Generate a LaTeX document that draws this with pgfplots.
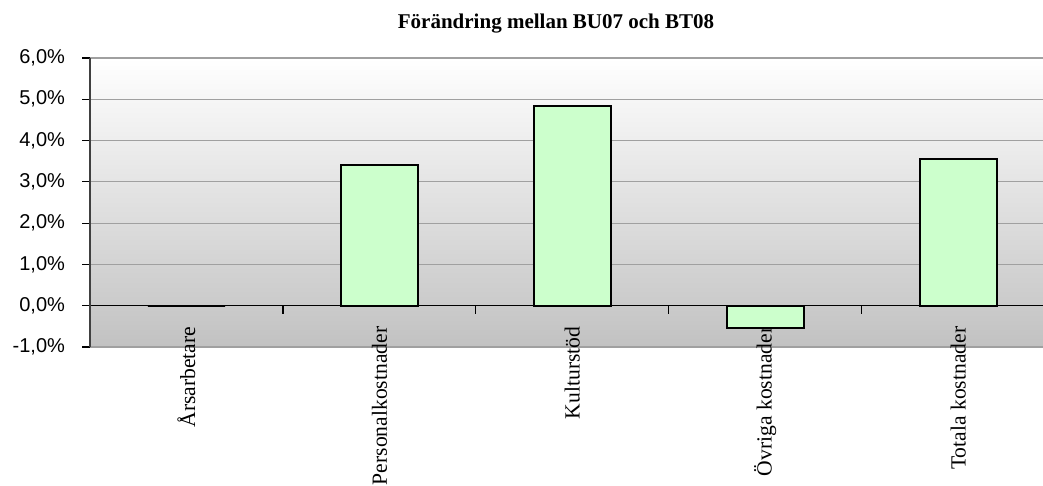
\documentclass[border=0pt]{standalone}
\usepackage{fontspec}
\setmainfont{Liberation Serif}
\newfontfamily\arialfont{Liberation Sans}
\usepackage{pgfplots}
\usepackage{pgfplotstable}
\pgfplotsset{compat=1.18}
\newlength\px \setlength\px{0.5pt}
\definecolor{barfill}{HTML}{CCFFCC}
\definecolor{gridgray}{HTML}{A0A0A0}
\pgfplotstableread{
x y
0 0
1 3.41
2 4.84
3 -0.53
4 3.56
}\datatable
\begin{document}
\begin{tikzpicture}[x=1\px,y=1\px]
\useasboundingbox (0,0) rectangle (1043,486);
\node[font=\fontsize{10.5pt}{12pt}\selectfont\bfseries] at (556,462) {Förändring mellan BU07 och BT08};
\begin{axis}[
 at={(90\px,139\px)}, anchor=south west,
 scale only axis, width=953\px, height=289\px,
 xmin=-0.5, xmax=4.44, ymin=-1, ymax=6,
 axis background/.style={shade, top color=white, bottom color=black!24},
 axis x line=middle, axis y line=left,
 axis line style={-, line width=1.5\px},
 x axis line style={black},
 y axis line style={black!75},
 tick align=outside,
 major tick length=8\px,
 tick style={black, line width=1.2\px},
 ytick={-1,0,...,6},
 yticklabels={{-1,0\%},{0,0\%},{1,0\%},{2,0\%},{3,0\%},{4,0\%},{5,0\%},{6,0\%}},
 yticklabel style={font=\arialfont\fontsize{10pt}{11pt}\selectfont, anchor=east, xshift=-10\px},
 xtick={0.5,1.5,2.5,3.5},
 xticklabels={},
 extra x ticks={0,1,2,3,4},
 extra x tick labels={Årsarbetare,Personalkostnader,Kulturstöd,Övriga kostnader,Totala kostnader},
 extra x tick style={major tick length=0pt},
 xticklabel style={rotate=90, anchor=east, xshift=-14\px, font=\fontsize{10.8pt}{12pt}\selectfont},
 ymajorgrids,
 major grid style={gridgray, line width=1.2\px},
 clip=false,
]
\addplot[ybar, bar width=0.4, fill=barfill, draw=black, line width=2\px] table[x=x,y=y] {\datatable};
\end{axis}
\end{tikzpicture}
\end{document}
